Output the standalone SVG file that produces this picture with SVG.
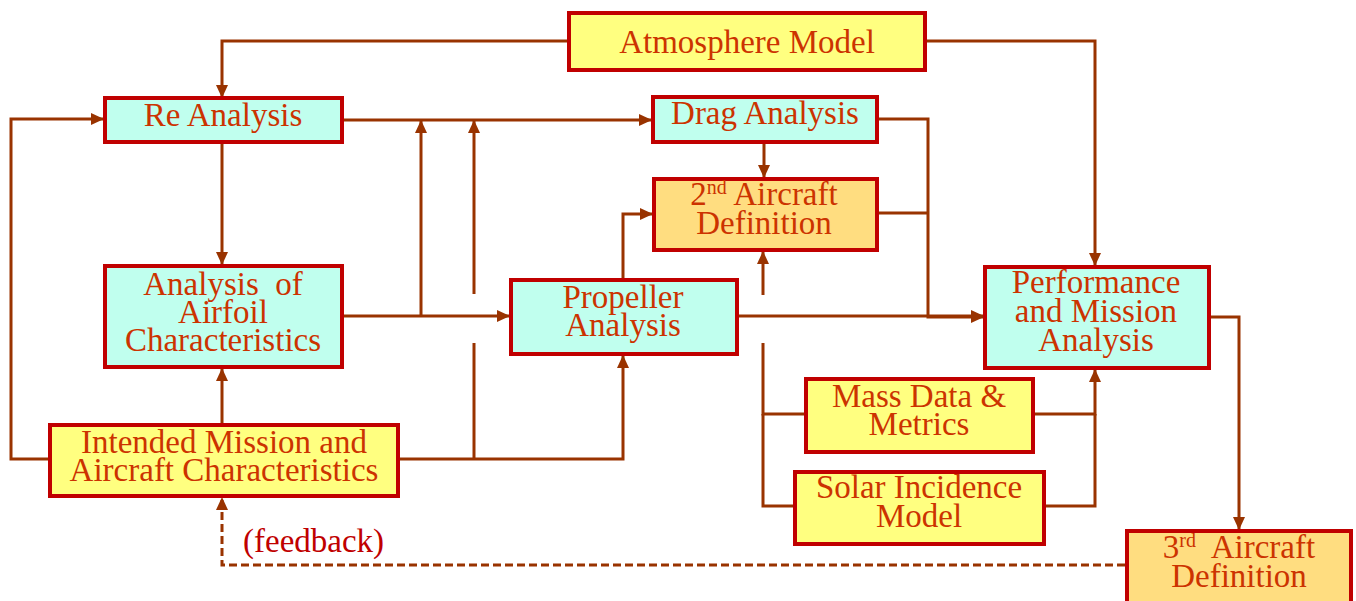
<svg xmlns="http://www.w3.org/2000/svg" width="1356" height="601" viewBox="0 0 1356 601">
  <style>
    .box { stroke: #C00000; stroke-width: 4; }
    .mint { fill: #C0FFEE; }
    .yellow { fill: #FFFF80; }
    .orange { fill: #FFDD80; }
    .label { font-family: "Liberation Serif", "Times New Roman", serif; font-size: 33px; fill: #CC3300; text-anchor: middle; }
    .sup { font-size: 20px; }
    .wire { fill: none; stroke: #993300; stroke-width: 3; }
    .dashed { stroke-dasharray: 8 4; }
    .note { font-family: "Liberation Serif", "Times New Roman", serif; font-size: 33px; fill: #C00000; }
  </style>
  <defs>
    <marker id="arrow" markerUnits="userSpaceOnUse" markerWidth="13" markerHeight="12" refX="12" refY="6" orient="auto">
      <path d="M0,0 L13,6 L0,12 z" fill="#993300"/>
    </marker>
  </defs>
  <rect width="1356" height="601" fill="#FFFFFF"/>

  <!-- connectors -->
  <g id="connectors">
    <path class="wire" d="M568,41 H222 V97" marker-end="url(#arrow)"/>
    <path class="wire" d="M926,41 H1095 V265" marker-end="url(#arrow)"/>
    <path class="wire" d="M343,120 H651" marker-end="url(#arrow)"/>
    <path class="wire" d="M222,144 V264" marker-end="url(#arrow)"/>
    <path class="wire" d="M343,316 H509" marker-end="url(#arrow)"/>
    <path class="wire" d="M421,316 V121" marker-end="url(#arrow)"/>
    <path class="wire" d="M222,423 V369" marker-end="url(#arrow)"/>
    <path class="wire" d="M48,459 H11 V119 H103" marker-end="url(#arrow)"/>
    <path class="wire" d="M400,459 H623 V356" marker-end="url(#arrow)"/>
    <path class="wire" d="M474,459 V343"/>
    <path class="wire" d="M474,294 V121" marker-end="url(#arrow)"/>
    <path class="wire" d="M623,278 V214 H652" marker-end="url(#arrow)"/>
    <path class="wire" d="M764,144 V177" marker-end="url(#arrow)"/>
    <path class="wire" d="M739,316 H983" marker-end="url(#arrow)"/>
    <path class="wire" d="M879,119 H928 V317 H983" marker-end="url(#arrow)"/>
    <path class="wire" d="M879,213 H928"/>
    <path class="wire" d="M804,414 H763 V343"/>
    <path class="wire" d="M793,506 H763 V414"/>
    <path class="wire" d="M763,295 V252" marker-end="url(#arrow)"/>
    <path class="wire" d="M1035,414 H1095 V370" marker-end="url(#arrow)"/>
    <path class="wire" d="M1046,506 H1095 V414"/>
    <path class="wire" d="M1210,317 H1239 V529" marker-end="url(#arrow)"/>
    <path class="wire dashed" d="M1125,565 H222 V498" marker-end="url(#arrow)"/>
    <text class="note" x="243" y="552">(feedback)</text>
  </g>

  <g id="atmosphere-model">
    <rect class="box yellow" x="569" y="13" width="356" height="57"/>
    <text class="label" x="747" y="53">Atmosphere Model</text>
  </g>

  <g id="re-analysis">
    <rect class="box mint" x="105" y="98" width="237" height="44"/>
    <text class="label" x="223" y="126">Re Analysis</text>
  </g>

  <g id="drag-analysis">
    <rect class="box mint" x="653" y="97" width="224" height="45"/>
    <text class="label" x="765" y="124">Drag Analysis</text>
  </g>

  <g id="second-aircraft-definition">
    <rect class="box orange" x="654" y="179" width="223" height="71"/>
    <text class="label" y="205"><tspan x="764">2<tspan class="sup" dy="-11">nd</tspan><tspan dy="11"> Aircraft</tspan></tspan><tspan x="764" dy="29">Definition</tspan></text>
  </g>

  <g id="airfoil-analysis">
    <rect class="box mint" x="105" y="266" width="237" height="101"/>
    <text class="label" y="295" style="white-space:pre"><tspan x="223">Analysis  of</tspan><tspan x="223" dy="28">Airfoil</tspan><tspan x="223" dy="28">Characteristics</tspan></text>
  </g>

  <g id="propeller-analysis">
    <rect class="box mint" x="511" y="280" width="226" height="74"/>
    <text class="label" y="308"><tspan x="623">Propeller</tspan><tspan x="623" dy="28">Analysis</tspan></text>
  </g>

  <g id="intended-mission">
    <rect class="box yellow" x="50" y="425" width="348" height="71"/>
    <text class="label" y="453"><tspan x="224">Intended Mission and</tspan><tspan x="224" dy="28">Aircraft Characteristics</tspan></text>
  </g>

  <g id="performance-analysis">
    <rect class="box mint" x="985" y="267" width="224" height="101"/>
    <text class="label" y="293"><tspan x="1096">Performance</tspan><tspan x="1096" dy="29">and Mission</tspan><tspan x="1096" dy="29">Analysis</tspan></text>
  </g>

  <g id="mass-data">
    <rect class="box yellow" x="806" y="379" width="227" height="73"/>
    <text class="label" y="407"><tspan x="919">Mass Data &amp;</tspan><tspan x="919" dy="28">Metrics</tspan></text>
  </g>

  <g id="solar-incidence">
    <rect class="box yellow" x="795" y="472" width="249" height="72"/>
    <text class="label" y="498"><tspan x="919">Solar Incidence</tspan><tspan x="919" dy="29">Model</tspan></text>
  </g>

  <g id="third-aircraft-definition">
    <rect class="box orange" x="1127" y="531" width="224" height="80"/>
    <text class="label" y="558" style="white-space:pre"><tspan x="1239">3<tspan class="sup" dy="-11">rd</tspan><tspan dy="11">  Aircraft</tspan></tspan><tspan x="1239" dy="29">Definition</tspan></text>
  </g>
</svg>
